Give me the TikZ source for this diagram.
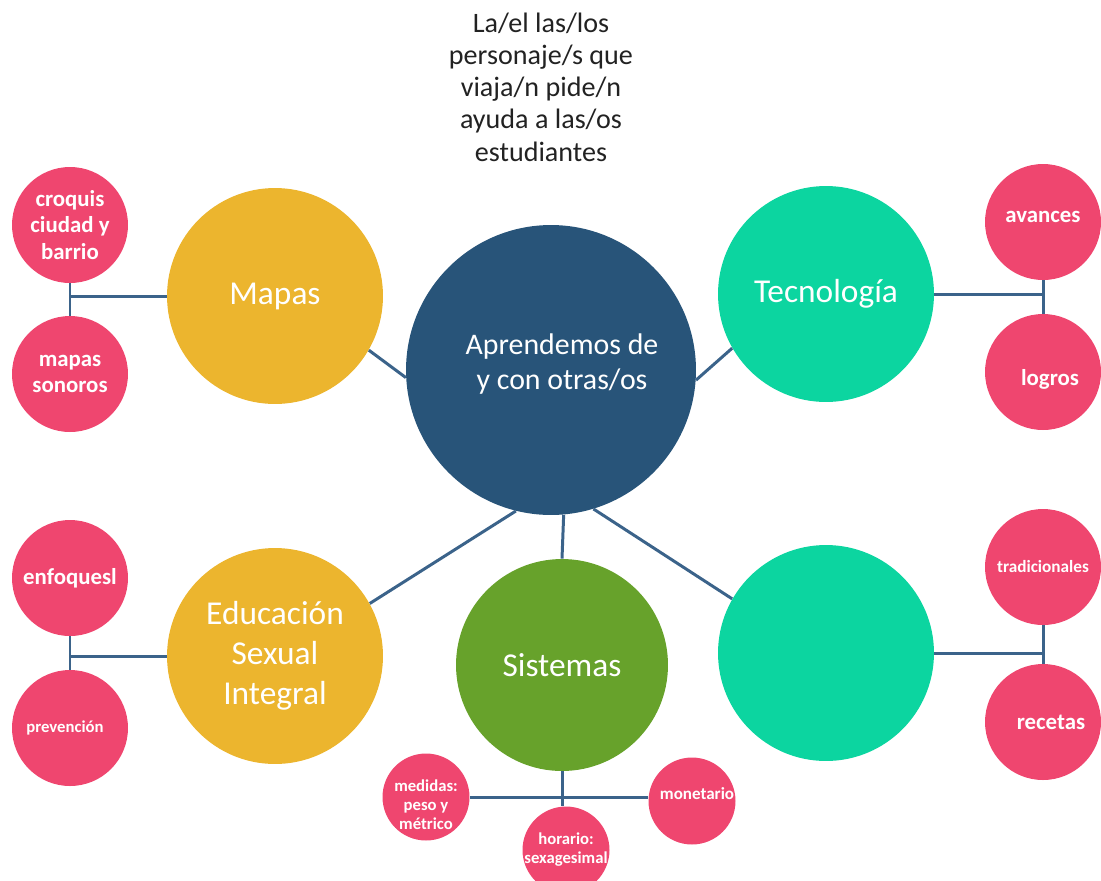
\documentclass[tikz,border=0pt]{standalone}
\usepackage{fontspec}
\setmainfont{Carlito}
\definecolor{azul}{HTML}{285479}
\definecolor{amarillo}{HTML}{ECB52E}
\definecolor{turquesa}{HTML}{0CD5A0}
\definecolor{verde}{HTML}{67A22B}
\definecolor{rosa}{HTML}{EF466F}
\definecolor{linea}{HTML}{3B638A}
\definecolor{texto}{HTML}{222222}

\begin{document}
\begin{tikzpicture}[x=0.02cm, y=-0.02cm,
    hub/.style={circle, fill=azul, inner sep=0pt, minimum size=5.8cm},
    hubtext/.style={text=white, align=center, font=\fontsize{17}{20.4}\selectfont},
    branch/.style={circle, inner sep=0pt, minimum size=4.32cm, text=white, align=center, font=\fontsize{19}{22.7}\selectfont},
    leaf/.style={circle, fill=rosa, inner sep=0pt, minimum size=2.32cm, text=white, align=center, font=\fontsize{13}{15}\selectfont\bfseries},
    leaftext/.style={text=white, align=center, font=\fontsize{13}{15}\selectfont\bfseries},
    subleaf/.style={leaf, minimum size=1.74cm, font=\fontsize{9.5}{10.8}\selectfont\bfseries},
    link/.style={draw=linea, line width=1.7pt}]
    \clip (0,0) rectangle (1101,880);

    \draw
    (541, 87) node[text=texto, align=center, font=\fontsize{16}{18.4}\selectfont](consigna){La/el las/los\\personaje/s que\\viaja/n pide/n\\ayuda a las/os\\estudiantes}
    (551, 370) node[hub, label={[hubtext, xshift=0.22cm, yshift=0.12cm]center:Aprendemos de\\y con otras/os}](central){}
    (275, 296) node[branch, fill=amarillo](mapas){Mapas}
    (826, 294) node[branch, fill=turquesa](tecno){Tecnología}
    (275, 656) node[branch, fill=amarillo](esi){Educación\\Sexual\\Integral}
    (562, 665) node[branch, fill=verde, minimum size=4.24cm](sistemas){Sistemas}
    (826, 653) node[branch, fill=turquesa](saberes){};

    \draw
    (70, 225) node[leaf](croquis){croquis\\ciudad y\\barrio}
    (70, 374) node[leaf](sonoros){mapas\\sonoros}
    (1043, 222) node[leaf, label={[leaftext, yshift=0.1cm]center:avances}](avances){}
    (1043, 372) node[leaf, label={[leaftext, xshift=0.14cm, yshift=-0.15cm]center:logros}](logros){}
    (70, 578) node[leaf](enfoques){enfoquesl}
    (70, 728) node[leaf, label={[leaftext, xshift=-0.1cm, font=\fontsize{9.5}{11}\selectfont\bfseries]center:prevención}](prevencion){}
    (1043, 567) node[leaf, font=\fontsize{9.8}{11}\selectfont\bfseries](tradicionales){tradicionales}
    (1043, 722) node[leaf, label={[leaftext, xshift=0.16cm]center:recetas}](recetas){}
    (426, 797) node[subleaf, label={[leaftext, yshift=-0.16cm, font=\fontsize{9.5}{10.8}\selectfont\bfseries]center:medidas:\\peso y\\métrico}](medidas){}
    (566, 850) node[subleaf](horario){\makebox[0pt]{horario:}\\\makebox[0pt]{sexagesimal}}
    (692, 801) node[subleaf, label={[leaftext, xshift=0.1cm, yshift=0.15cm, font=\fontsize{9.7}{11}\selectfont\bfseries]center:monetario}](monetario){};

    % centro con los temas
    \draw[link] (mapas.-30) -- (central.183);
    \draw[link] (tecno.210) -- (central.-4);
    \draw[link] (esi.29) -- (central.256);
    \draw[link] (sistemas.north) -- (central.275);
    \draw[link] (saberes.150) -- (central.287);

    % temas con sus ejemplos
    \draw[link] (croquis.south) -- (sonoros.north);
    \draw[link] (mapas.west) -- (mapas.west -| croquis.south);
    \draw[link] (avances.south) -- (logros.north);
    \draw[link] (tecno.east) -- (tecno.east -| avances.south);
    \draw[link] (enfoques.south) -- (prevencion.north);
    \draw[link] (esi.west) -- (esi.west -| enfoques.south);
    \draw[link] (tradicionales.south) -- (recetas.north);
    \draw[link] (saberes.east) -- (saberes.east -| tradicionales.south);
    \draw[link] (sistemas.south) -- (sistemas.south |- horario.north);
    \draw[link] (medidas.east) -- (medidas.east -| monetario.west);

  \end{tikzpicture}
\end{document}
